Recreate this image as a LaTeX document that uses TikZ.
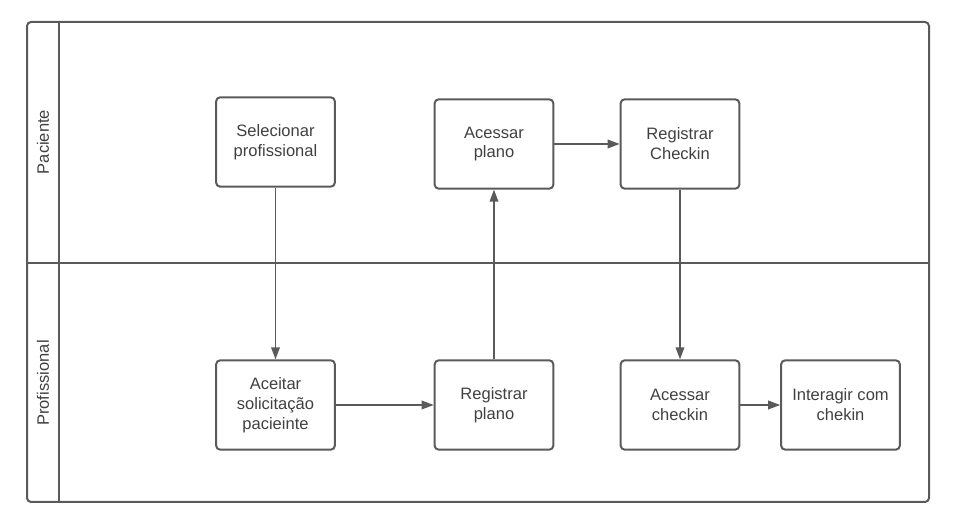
\documentclass[tikz,border=0pt]{standalone}
\usepackage{fontspec}
\setmainfont{Liberation Sans}
\usetikzlibrary{arrows.meta}
\definecolor{ln}{HTML}{5A5A5A}
\definecolor{tx}{HTML}{404040}
\begin{document}
\begin{tikzpicture}[x=0.75pt,y=-0.75pt,
  stepbox/.style={draw=ln,line width=1.5pt,rounded corners=3pt,minimum width=89pt,minimum height=67pt,
    align=center,text=tx,font=\fontsize{12.4}{14.9}\selectfont,inner sep=0pt},
  lanelabel/.style={rotate=90,text=tx,font=\fontsize{12.4}{14.9}\selectfont},
  conn/.style={draw=ln,line width=1.1pt,-{Triangle[length=9pt,width=6.5pt]}}]
\useasboundingbox (0,0) rectangle (968,530);
\draw[ln,line width=1.5pt,rounded corners=3pt] (27,22) rectangle (929,502);
\draw[ln,line width=1.5pt] (59,22) -- (59,502);
\draw[ln,line width=1.5pt] (27,263) -- (929,263);
\node[lanelabel] (l1) at (43,142) {Paciente};
\node[lanelabel] (l2) at (43,383) {Profissional};
\node[stepbox] (sel) at (275.5,142) {Selecionar\\profissional};
\node[stepbox] (acp) at (494,144) {Acessar\\plano};
\node[stepbox] (rch) at (680,144) {Registrar\\Checkin};
\node[stepbox] (ace) at (275.5,405) {Aceitar\\solicitação\\pacieinte};
\node[stepbox] (rpl) at (494,405) {Registrar\\plano};
\node[stepbox] (ack) at (680,405) {Acessar\\checkin};
\node[stepbox] (int) at (840.5,405) {Interagir com\\chekin};
\draw[conn] (sel.south) -- (ace.north);
\draw[conn] (ace.east) -- (rpl.west);
\draw[conn] (rpl.north) -- (acp.south);
\draw[conn] (acp.east) -- (rch.west);
\draw[conn] (rch.south) -- (ack.north);
\draw[conn] (ack.east) -- (int.west);
\end{tikzpicture}
\end{document}
